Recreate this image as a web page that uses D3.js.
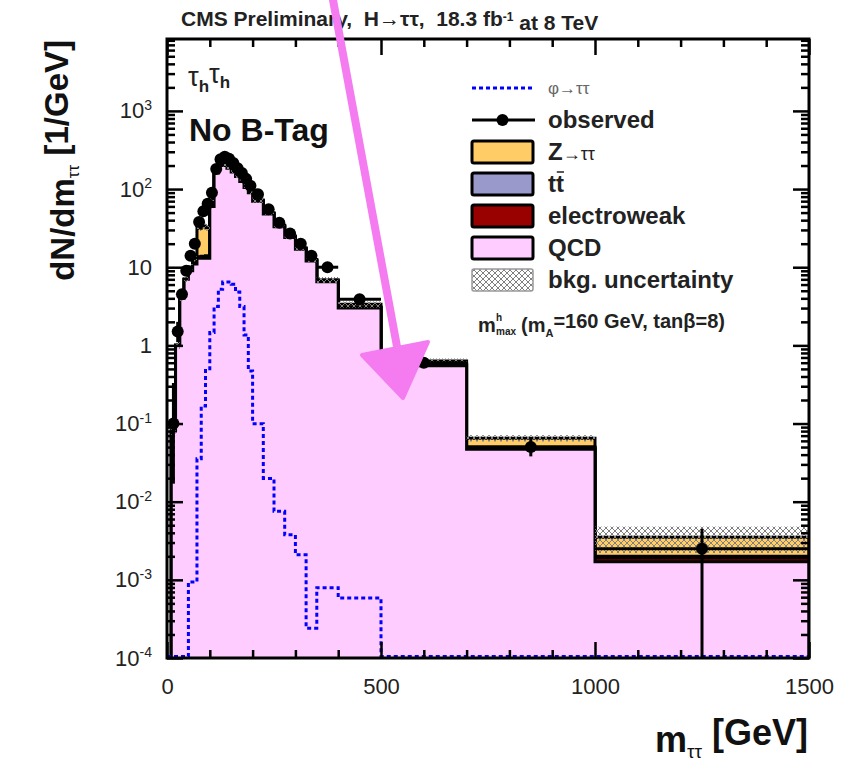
<!DOCTYPE html>
<html>
<head>
<meta charset="utf-8">
<script src="https://cdn.jsdelivr.net/npm/d3@7"></script>
<style>
  body { margin: 0; background: #fff; }
  text { font-family: "Liberation Sans", Arial, Helvetica, sans-serif; white-space: pre; }
</style>
</head>
<body>
<svg id="chart" width="851" height="769"></svg>
<script>
"use strict"

// Binning (GeV)
const binEdges = [0,10,20,30,40,50,60,70,80,90,100,110,120,130,140,150,160,170,180,190,200,
  225,250,275,300,325,350,400,500,700,1000,1500]

// Background components, dN/dm [1/GeV]
const qcd = [0,0.08,1.0,4,7,9,11,13,13,13, 60,160,200,200,185,165,145,125,105,90,
  70,48,33,24,17,12,6.5,3.0, 0.55,0.047,0.0017]
const ewk = [0,0,0,0,0, 0.1,0.2,0.4,0.5,0.6, 0.8,1.0,1.2,1.3,1.3,1.2,1.1,1.0,0.9,0.8,
  0.6,0.45,0.35,0.25,0.2,0.15,0.1,0.05, 0.02,0.002,0.0002]
const ttbar = [0,0,0,0,0, 0.05,0.1,0.2,0.3,0.4, 0.5,0.6,0.7,0.8,0.8,0.8,0.8,0.7,0.7,0.6,
  0.5,0.4,0.3,0.25,0.2,0.15,0.1,0.05, 0.01,0.001,0.0001]
const ztt = [0,0,0,0,0, 1,2,18,20,18, 15,12,10,8,6,5,4,3,2.5,2,
  1.5,1.0,0.7,0.5,0.35,0.25,0.2,0.25, 0.05,0.015,0.0015]
const bkgUnc = [0,0.01,0.1,0.3,0.5, 0.8,1.0,2.5,2.7,2.6, 6,14,16,16,15,13,12,10,9,7.5,
  6,4,2.8,2,1.4,1,0.6,0.3, 0.05,0.006,0.0013]

// Signal phi->tautau (mhmax, mA=160, tanb=8)
const signal = [0,0,0,0,0, 9e-4,9e-4,0.034,0.16,0.48, 1.4,3.0,5.0,6.2,6.2,5.8,4.6,3.0,1.3,0.45,
  0.095,0.019,0.0072,0.0036,0.002,0.00023,0.00076,0.00056, 0,0,0]

// Observed data
const observed = [0,0.1,1.5,4.5,9, 14,20,38,52,65, 90,180,240,260,245,215,185,160,135,110,
  86,55,37,27,20,14,10,3.9, 0.6,0.05,0.0025]
const obsErrUp = [0,0.23,0.5,0.75,1.0, 1.2,1.4,1.9,2.3,2.5, 3.0,4.2,4.9,5.1,4.9,4.6,4.3,4.0,3.7,3.3,
  1.85,1.5,1.2,1.0,0.9,0.75,0.45,0.2, 0.06,0.015,0.0020]
const obsErrDown = [0,0.083,0.4,0.65,0.9, 1.2,1.4,1.9,2.3,2.5, 3.0,4.2,4.9,5.1,4.9,4.6,4.3,4.0,3.7,3.3,
  1.85,1.5,1.2,1.0,0.9,0.75,0.45,0.2, 0.05,0.012,0.0025]

const xMajorTicks = [0,500,1000,1500]
const xMinorTicks = [100,200,300,400,600,700,800,900,1100,1200,1300,1400]
const yMajorTicks = [1e-4,1e-3,1e-2,1e-1,1,10,100,1000]

const legendItems = ['φ→ττ','observed','Z→ττ','tt','electroweak','QCD','bkg. uncertainty']

// Colours
const col_qcd = '#ffccff'
const col_ewk = '#990000'
const col_tt = '#9999cc'
const col_ztt = '#ffcc66'
const col_sig = '#0000ff'

const svg = d3.select('#chart')
const frame = { left: 167, right: 809, top: 39, bottom: 658 }

const x = d3.scaleLinear().domain([0,1500]).range([frame.left, frame.right])
const y = d3.scaleLog().domain([1e-4, Math.pow(10,3.92)]).range([frame.bottom, frame.top]).clamp(true)

// hatch pattern for uncertainty
const defs = svg.append('defs')
const pat = defs.append('pattern')
  .attr('id','hatch').attr('patternUnits','userSpaceOnUse')
  .attr('width',6).attr('height',6)
pat.append('path').attr('d','M0,0 L6,6 M6,0 L0,6').attr('stroke','#808080').attr('stroke-width',1)
defs.append('clipPath').attr('id','plotclip').append('rect')
  .attr('x',frame.left).attr('y',frame.top)
  .attr('width',frame.right-frame.left).attr('height',frame.bottom-frame.top)

const plot = svg.append('g').attr('clip-path','url(#plotclip)')

// step points for a histogram
function stepPoints(values) {
  const pts = []
  values.forEach((v,i) => {
    pts.push([binEdges[i], v])
    pts.push([binEdges[i+1], v])
  })
  return pts
}
const area = d3.area()
  .x(d => x(d[0])).y0(frame.bottom).y1(d => y(Math.max(d[1],1e-6)))
const line = d3.line()
  .x(d => x(d[0])).y(d => y(Math.max(d[1],1e-6)))

// cumulative stack, drawn top-down like THStack
const stackLayers = [
  { fill: col_ztt, vals: qcd.map((v,i) => v + ewk[i] + ttbar[i] + ztt[i]) },
  { fill: col_tt,  vals: qcd.map((v,i) => v + ewk[i] + ttbar[i]) },
  { fill: col_ewk, vals: qcd.map((v,i) => v + ewk[i]) },
  { fill: col_qcd, vals: qcd }
]
stackLayers.forEach(layer => {
  const pts = stepPoints(layer.vals)
  plot.append('path').datum(pts)
    .attr('d', area).attr('fill', layer.fill)
  const outline = [[0,1e-6]].concat(pts, [[1500,1e-6]])
  plot.append('path').datum(outline)
    .attr('d', line).attr('fill','none')
    .attr('stroke','#000').attr('stroke-width',3)
})

// uncertainty band
const total = stackLayers[0].vals
plot.selectAll('rect.unc').data(total).enter().append('rect')
  .attr('class','unc')
  .attr('x',(d,i) => x(binEdges[i]))
  .attr('width',(d,i) => x(binEdges[i+1]) - x(binEdges[i]))
  .attr('y',(d,i) => y(d + bkgUnc[i]))
  .attr('height',(d,i) => Math.max(0, y(Math.max(d - bkgUnc[i],1e-6)) - y(d + bkgUnc[i])))
  .attr('fill','url(#hatch)')

// signal
plot.append('path').datum(stepPoints(signal))
  .attr('d', d3.line().x(d => x(d[0])).y(d => y(Math.max(d[1],1e-6)) - 1.5))
  .attr('fill','none').attr('stroke',col_sig).attr('stroke-width',3)
  .attr('stroke-dasharray','4,3')

// observed
const obs = observed.map((v,i) => ({
  v, lo: v - obsErrDown[i], hi: v + obsErrUp[i],
  x0: binEdges[i], x1: binEdges[i+1], xc: (binEdges[i] + binEdges[i+1]) / 2
})).filter(d => d.v > 0)
const og = plot.append('g')
og.selectAll('line.ex').data(obs).enter().append('line')
  .attr('x1', d => x(d.x0)).attr('x2', d => x(d.x1))
  .attr('y1', d => y(d.v)).attr('y2', d => y(d.v))
  .attr('stroke','#000').attr('stroke-width',3)
og.selectAll('line.ey').data(obs).enter().append('line')
  .attr('x1', d => x(d.xc)).attr('x2', d => x(d.xc))
  .attr('y1', d => y(Math.max(d.lo,1e-6))).attr('y2', d => y(d.hi))
  .attr('stroke','#000').attr('stroke-width',3)
og.selectAll('circle').data(obs).enter().append('circle')
  .attr('cx', d => x(d.xc)).attr('cy', d => y(d.v)).attr('r',6)
  .attr('fill','#000')

// axes (ticks inward)
function yLabel(sel) {
  sel.selectAll('.tick text').each(function(d) {
    const t = d3.select(this)
    const e = Math.round(Math.log10(d))
    t.text(null)
    if (e === 0) t.text('1')
    else if (e === 1) t.text('10')
    else {
      t.append('tspan').text('10')
      t.append('tspan').attr('dy','-0.6em').attr('font-size','14px').text(e)
    }
  })
}
const axes = svg.append('g')
axes.append('g').attr('transform',`translate(0,${frame.bottom})`)
  .call(d3.axisBottom(x).tickValues(xMajorTicks).tickSize(-16).tickPadding(20).tickFormat(d3.format('d')))
axes.append('g').attr('transform',`translate(0,${frame.bottom})`)
  .call(d3.axisBottom(x).tickValues(xMinorTicks).tickSize(-8).tickFormat(''))
axes.append('g').attr('transform',`translate(0,${frame.top})`)
  .call(d3.axisTop(x).tickValues(xMajorTicks).tickSize(-16).tickFormat(''))
axes.append('g').attr('transform',`translate(0,${frame.top})`)
  .call(d3.axisTop(x).tickValues(xMinorTicks).tickSize(-8).tickFormat(''))

const yMinorTicks = []
yMajorTicks.forEach(p => { for (let k = 2; k <= 9; k++) if (p*k < y.domain()[1]) yMinorTicks.push(p*k) })

axes.append('g').attr('transform',`translate(${frame.left},0)`)
  .call(d3.axisLeft(y).tickValues(yMajorTicks).tickSize(-16).tickPadding(15))
  .call(yLabel)
axes.append('g').attr('transform',`translate(${frame.left},0)`)
  .call(d3.axisLeft(y).tickValues(yMinorTicks).tickSize(-8).tickFormat(''))
axes.append('g').attr('transform',`translate(${frame.right},0)`)
  .call(d3.axisRight(y).tickValues(yMajorTicks).tickSize(-16).tickFormat(''))
axes.append('g').attr('transform',`translate(${frame.right},0)`)
  .call(d3.axisRight(y).tickValues(yMinorTicks).tickSize(-8).tickFormat(''))

axes.selectAll('.domain').remove()
axes.selectAll('.tick line').attr('stroke','#000').attr('stroke-width',2.5)
axes.selectAll('.tick text').attr('font-size','22px').attr('fill','#222')
  .attr('font-family','"Liberation Sans", Arial, sans-serif')

svg.append('rect')
  .attr('x',frame.left).attr('y',frame.top)
  .attr('width',frame.right-frame.left).attr('height',frame.bottom-frame.top)
  .attr('fill','none').attr('stroke','#000').attr('stroke-width',3)

// axis titles
const xt = svg.append('text').attr('x',808).attr('y',752).attr('text-anchor','end')
  .attr('font-weight','bold').attr('font-size','36px').attr('fill','#111')
xt.append('tspan').text('m')
xt.append('tspan').attr('dy','0.3em').attr('font-size','19px').attr('font-weight','normal').text('ττ')
xt.append('tspan').attr('dy','-0.35em').text(' [GeV]')

const yt = svg.append('text').attr('transform','translate(74,40) rotate(-90)')
  .attr('text-anchor','end').attr('font-weight','bold').attr('font-size','33px').attr('fill','#111')
yt.append('tspan').text('dN/dm')
yt.append('tspan').attr('dy','0.3em').attr('font-size','17px').attr('font-weight','normal').text('ττ')
yt.append('tspan').attr('dy','-0.35em').text(' [1/GeV]')

// header
const hd = svg.append('text').attr('x',181).attr('y',26)
  .attr('font-weight','bold').attr('font-size','21px').attr('fill','#222')
hd.append('tspan').text('CMS Preliminary,  H→ττ,  18.3 fb')
hd.append('tspan').attr('dy','-0.45em').attr('font-size','12px').text('-1')
hd.append('tspan').attr('dy','0.45em').text(' at 8 TeV')

// channel / category
const ch = svg.append('text').attr('x',188).attr('y',86).attr('fill','#222').attr('font-size','27px')
ch.append('tspan').text('τ')
ch.append('tspan').attr('dy','0.35em').attr('font-size','17px').attr('font-weight','bold').text('h')
ch.append('tspan').attr('dy','-0.35em').text('τ')
ch.append('tspan').attr('dy','0.35em').attr('font-size','17px').attr('font-weight','bold').text('h')
svg.append('text').attr('x',189).attr('y',141).attr('font-size','32px').attr('font-weight','bold')
  .attr('fill','#111').text('No B-Tag')

// legend
const lg = svg.append('g')
const rowY = d3.scalePoint().domain(legendItems).range([88,280])
const bx0 = 472, bx1 = 533
legendItems.forEach((name,i) => {
  const cy = rowY(name)
  if (i === 0) {
    lg.append('line').attr('x1',bx0).attr('x2',bx1+2).attr('y1',cy).attr('y2',cy)
      .attr('stroke',col_sig).attr('stroke-width',3).attr('stroke-dasharray','4,3')
  } else if (i === 1) {
    lg.append('line').attr('x1',bx0).attr('x2',bx1+2).attr('y1',cy).attr('y2',cy)
      .attr('stroke','#000').attr('stroke-width',3)
    lg.append('circle').attr('cx',(bx0+bx1)/2).attr('cy',cy).attr('r',6).attr('fill','#000')
  } else {
    const fills = { 2: col_ztt, 3: col_tt, 4: col_ewk, 5: col_qcd, 6: 'url(#hatch)' }
    lg.append('rect').attr('x',bx0).attr('y',cy-11).attr('width',bx1-bx0).attr('height',22)
      .attr('rx',2).attr('fill', fills[i])
      .attr('stroke', i === 6 ? '#999' : '#000').attr('stroke-width', i === 6 ? 1.5 : 3)
  }
})
function legText(i) {
  return lg.append('text').attr('x',548).attr('y',rowY(legendItems[i]) + 8)
    .attr('font-size','24px').attr('font-weight','bold').attr('fill','#222')
}
legText(0).attr('font-size','17px').attr('font-weight','normal').attr('fill','#666').attr('y',rowY(legendItems[0])+6).text('φ→ττ')
legText(1).text('observed')
const zt = legText(2)
zt.append('tspan').text('Z')
zt.append('tspan').attr('font-size','18px').attr('font-weight','normal').text('→ττ')
const tt = legText(3)
tt.text('tt')
const ttW = tt.node().getComputedTextLength()
lg.append('line').attr('x1',548 + ttW*0.55).attr('x2',548 + ttW).attr('y1',rowY('tt')-12).attr('y2',rowY('tt')-12)
  .attr('stroke','#222').attr('stroke-width',1.5)
legText(4).text('electroweak')
legText(5).text('QCD')
legText(6).text('bkg. uncertainty')

// model annotation
const ann = svg.append('g').attr('fill','#222').attr('font-weight','bold')
ann.append('text').attr('x',478).attr('y',332).attr('font-size','20px').text('m')
ann.append('text').attr('x',496).attr('y',321).attr('font-size','10px').text('h')
ann.append('text').attr('x',496).attr('y',335).attr('font-size','10px').text('max')
const ann2 = ann.append('text').attr('x',521).attr('y',332).attr('font-size','20px')
ann2.append('tspan').text('(m')
ann2.append('tspan').attr('dy','0.45em').attr('font-size','11px').text('A')
ann2.append('tspan').attr('dy','-0.45em').text('=160 GeV, tanβ=8)')

// hand-drawn pink arrow
const pink = '#f47cf0'
svg.append('line').attr('x1',333).attr('y1',0).attr('x2',398).attr('y2',352)
  .attr('stroke',pink).attr('stroke-width',8).attr('stroke-linecap','round')
svg.append('path').attr('d','M362,355 L428,342 L403,398 Z')
  .attr('fill',pink).attr('stroke',pink).attr('stroke-width',4).attr('stroke-linejoin','round')
</script>
</body>
</html>
